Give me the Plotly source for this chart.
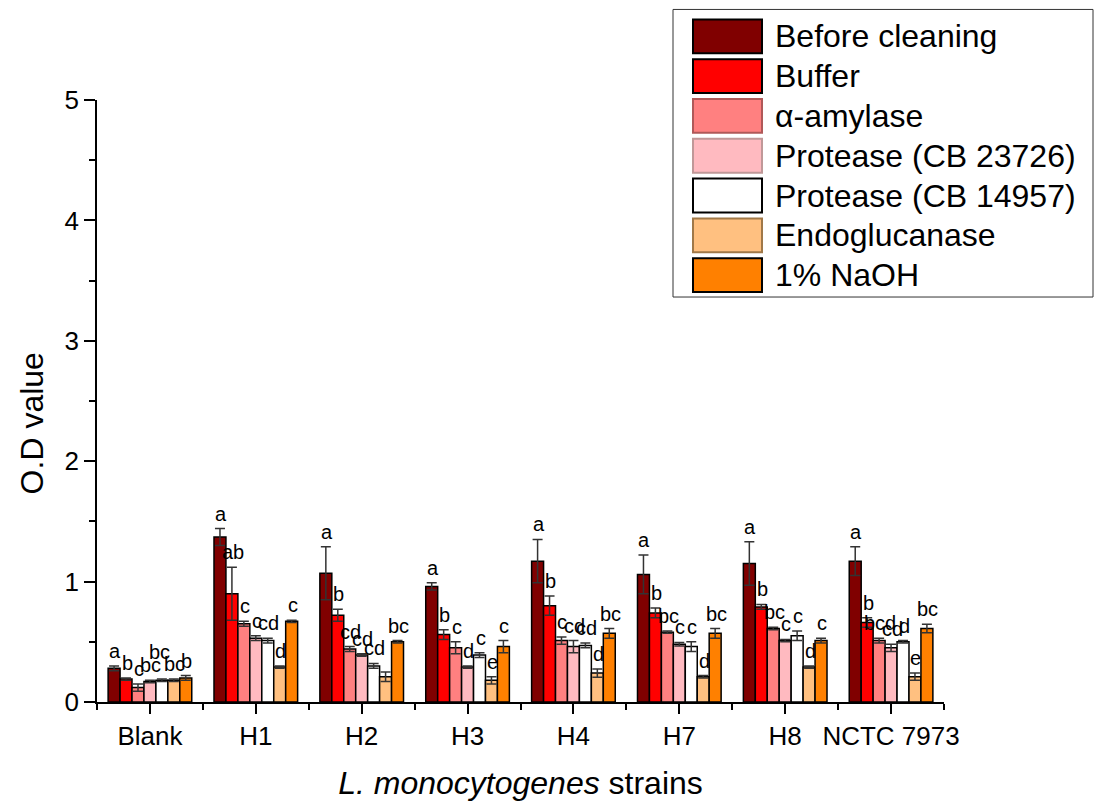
import plotly.graph_objects as go

# ---- data -------------------------------------------------------------
strains = ["Blank", "H1", "H2", "H3", "H4", "H7", "H8", "NCTC 7973"]

treatments = ["Before cleaning", "Buffer", "α-amylase", "Protease (CB 23726)",
              "Protease (CB 14957)", "Endoglucanase", "1% NaOH"]

before_cleaning = [0.28, 1.37, 1.07, 0.96, 1.17, 1.06, 1.15, 1.17]
before_cleaning_err = [0.02, 0.07, 0.22, 0.03, 0.18, 0.16, 0.18, 0.12]

buffer = [0.19, 0.90, 0.72, 0.56, 0.80, 0.74, 0.79, 0.66]
buffer_err = [0.01, 0.22, 0.05, 0.04, 0.08, 0.04, 0.02, 0.04]

amylase = [0.12, 0.65, 0.44, 0.45, 0.51, 0.58, 0.61, 0.51]
amylase_err = [0.03, 0.02, 0.02, 0.05, 0.03, 0.01, 0.01, 0.02]

protease_23726 = [0.17, 0.53, 0.39, 0.29, 0.46, 0.48, 0.51, 0.45]
protease_23726_err = [0.01, 0.02, 0.01, 0.01, 0.05, 0.015, 0.01, 0.03]

protease_14957 = [0.18, 0.51, 0.30, 0.39, 0.47, 0.46, 0.55, 0.50]
protease_14957_err = [0.01, 0.02, 0.02, 0.02, 0.02, 0.04, 0.04, 0.01]

endoglucanase = [0.18, 0.29, 0.21, 0.18, 0.24, 0.21, 0.29, 0.21]
endoglucanase_err = [0.01, 0.01, 0.04, 0.03, 0.035, 0.01, 0.01, 0.03]

naoh = [0.20, 0.67, 0.50, 0.46, 0.57, 0.57, 0.51, 0.61]
naoh_err = [0.02, 0.01, 0.01, 0.05, 0.04, 0.04, 0.02, 0.035]

# significance letters (per treatment, per strain)
before_cleaning_sig = ["a", "a", "a", "a", "a", "a", "a", "a"]
buffer_sig = ["b", "ab", "b", "b", "b", "b", "b", "b"]
amylase_sig = ["c", "c", "cd", "c", "c", "bc", "bc", "bcd"]
protease_23726_sig = ["bc", "c", "cd", "d", "cd", "c", "c", "cd"]
protease_14957_sig = ["bc", "cd", "cd", "c", "cd", "c", "c", "d"]
endoglucanase_sig = ["bc", "d", "", "e", "d", "d", "d", "e"]
naoh_sig = ["b", "c", "bc", "c", "bc", "bc", "c", "bc"]

# ---- styling ----------------------------------------------------------
colors = ["#800000", "#FF0000", "#FF8080", "#FFBAC0", "#FFFFFF", "#FFC080", "#FF8000"]
swatch_edges = ["#000000", "#000000", "#B05858", "#C09898", "#000000", "#A07848", "#000000"]

values = [before_cleaning, buffer, amylase, protease_23726, protease_14957, endoglucanase, naoh]
errors = [before_cleaning_err, buffer_err, amylase_err, protease_23726_err,
          protease_14957_err, endoglucanase_err, naoh_err]
letters = [before_cleaning_sig, buffer_sig, amylase_sig, protease_23726_sig,
           protease_14957_sig, endoglucanase_sig, naoh_sig]

FONT = "Liberation Sans, Arial, sans-serif"
W, H = 1099, 807
ML, MR, MT, MB = 97, 155, 100, 102
BARGAP = 0.21

# a few letters lifted so they don't collide with neighbours: (treatment, strain) -> (dx, dy) px
letter_nudge = {(4, 0): (-3, 12)}


def to_paper(px, py):
    return (px - ML) / (W - ML - MR), (H - MB - py) / (H - MT - MB)


fig = go.Figure()
xpos = list(range(len(strains)))
for name, vals, errs, col in zip(treatments, values, errors, colors):
    fig.add_trace(go.Bar(
        x=xpos, y=vals, name=name,
        marker=dict(color=col, line=dict(color="#000000", width=1.5)),
        error_y=dict(type="data", array=errs, visible=True,
                     color="#333333", thickness=1.5, width=5),
    ))

# letters above each bar
n = len(treatments)
bar_w = (1 - BARGAP) / n
annotations = []
for i, (vals, errs, labs) in enumerate(zip(values, errors, letters)):
    offset = (i - (n - 1) / 2) * bar_w
    for j, (v, e, lab) in enumerate(zip(vals, errs, labs)):
        if not lab:
            continue
        dx, dy = letter_nudge.get((i, j), (0, 0))
        annotations.append(dict(
            x=j + offset, y=v + e, xref="x", yref="y", text=lab, showarrow=False,
            yanchor="bottom", xanchor="center", xshift=1 + dx, yshift=2 + dy,
            font=dict(family=FONT, size=20, color="#000000"),
        ))

# legend box drawn by hand (large swatches)
shapes = []
bx0, by0 = to_paper(673, 9)
bx1, by1 = to_paper(1093, 298)
shapes.append(dict(type="rect", xref="paper", yref="paper", x0=bx0, y0=by1, x1=bx1, y1=by0,
                   line=dict(color="#333333", width=1), fillcolor="rgba(255,255,255,0)"))
for i, (name, col, edge) in enumerate(zip(treatments, colors, swatch_edges)):
    cy = 36 + 40 * i
    sx0, sy0 = to_paper(693, cy - 17)
    sx1, sy1 = to_paper(762, cy + 17)
    shapes.append(dict(type="rect", xref="paper", yref="paper", x0=sx0, y0=sy1, x1=sx1, y1=sy0,
                       line=dict(color=edge, width=2), fillcolor=col))
    tx, ty = to_paper(773, cy)
    annotations.append(dict(x=tx, y=ty, xref="paper", yref="paper", text=name, showarrow=False,
                            xanchor="left", yanchor="middle",
                            font=dict(family=FONT, size=32, color="#000000")))

# y-axis title
ytx, yty = to_paper(32, 425)
annotations.append(dict(x=ytx, y=yty, xref="paper", yref="paper", text="O.D value",
                        showarrow=False, textangle=-90, xanchor="center", yanchor="middle",
                        font=dict(family=FONT, size=32, color="#000000")))

fig.update_layout(
    width=W, height=H,
    margin=dict(l=ML, r=MR, t=MT, b=MB),
    paper_bgcolor="white", plot_bgcolor="white",
    barmode="group", bargap=BARGAP, bargroupgap=0,
    showlegend=False,
    annotations=annotations, shapes=shapes,
    xaxis=dict(
        range=[-0.5, len(strains) - 0.5],
        tickmode="array", tickvals=xpos, ticktext=strains,
        ticks="outside", ticklen=10, tickwidth=1.5, tickcolor="#000000",
        showline=True, linecolor="#000000", linewidth=1.5,
        showgrid=False, zeroline=False,
        minor=dict(tickvals=[k - 0.5 for k in range(len(strains) + 1)],
                   ticks="outside", ticklen=6, tickwidth=1.5, tickcolor="#000000"),
        tickfont=dict(family=FONT, size=26, color="#000000"),
        title=dict(text="<i>L. monocytogenes</i> strains",
                   font=dict(family=FONT, size=32, color="#000000"), standoff=22),
    ),
    yaxis=dict(
        range=[0, 5], dtick=1, tick0=0,
        ticks="outside", ticklen=11, tickwidth=1.5, tickcolor="#000000",
        showline=True, linecolor="#000000", linewidth=1.5,
        showgrid=False, zeroline=False,
        minor=dict(dtick=0.5, ticks="outside", ticklen=6, tickwidth=1.5, tickcolor="#000000"),
        tickfont=dict(family=FONT, size=26, color="#000000"),
    ),
)

fig.write_html("out.html")
